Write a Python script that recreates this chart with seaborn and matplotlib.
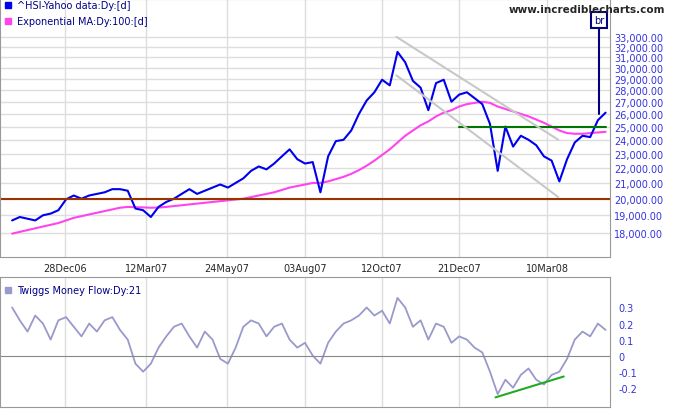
import numpy as np
import pandas as pd
import matplotlib
matplotlib.use('agg')
import matplotlib.pyplot as plt
import matplotlib.dates as mdates
from matplotlib.ticker import FixedLocator, NullLocator
import seaborn as sns

# weekly closes, Nov 2006 - May 2008
price = [18700, 18900, 18800, 18700, 19000, 19100, 19300, 19960, 20200, 20000,
         20200, 20300, 20400, 20600, 20600, 20500, 19400, 19300, 18900, 19500,
         19800, 20000, 20300, 20600, 20300, 20500, 20700, 20900, 20700, 21000,
         21300, 21800, 22100, 21900, 22300, 22800, 23300, 22600, 22300, 22400,
         20400, 22800, 23900, 24000, 24700, 26000, 27100, 27800, 28900, 28400,
         31500, 30500, 28800, 28200, 26300, 28600, 28900, 27000, 27600, 27800,
         27300, 26800, 25200, 21800, 25000, 23500, 24300, 24000, 23600, 22800,
         22500, 21100, 22600, 23800, 24300, 24200, 25500, 26100]
ema100 = [17950, 18050, 18150, 18250, 18350, 18450, 18550, 18700, 18850, 18950,
          19050, 19150, 19250, 19350, 19450, 19500, 19480, 19470, 19450, 19460,
          19500, 19550, 19600, 19650, 19700, 19750, 19800, 19850, 19900, 19950,
          20000, 20100, 20200, 20300, 20400, 20550, 20700, 20800, 20900, 21000,
          21000, 21100, 21250, 21400, 21600, 21850, 22150, 22500, 22900, 23300,
          23800, 24300, 24700, 25100, 25400, 25800, 26100, 26300, 26600, 26800,
          26900, 27000, 26900, 26600, 26400, 26200, 26000, 25800, 25550, 25300,
          25000, 24700, 24500, 24450, 24450, 24500, 24550, 24600]
twiggs = [0.30, 0.22, 0.15, 0.25, 0.20, 0.10, 0.22, 0.24, 0.18, 0.12,
          0.20, 0.15, 0.22, 0.24, 0.16, 0.10, -0.05, -0.10, -0.05, 0.05,
          0.12, 0.18, 0.20, 0.12, 0.05, 0.15, 0.10, -0.02, -0.05, 0.05,
          0.18, 0.22, 0.20, 0.12, 0.18, 0.20, 0.10, 0.05, 0.08, 0.00,
          -0.05, 0.08, 0.15, 0.20, 0.22, 0.25, 0.30, 0.25, 0.28, 0.20,
          0.36, 0.30, 0.18, 0.22, 0.10, 0.20, 0.18, 0.08, 0.12, 0.10,
          0.05, 0.02, -0.10, -0.24, -0.15, -0.20, -0.12, -0.08, -0.15, -0.18,
          -0.12, -0.10, -0.02, 0.10, 0.15, 0.12, 0.20, 0.16]
dates = pd.date_range('2006-11-10', periods=len(price), freq='7D')
df = pd.DataFrame({'date': dates, 'price': price, 'ema': ema100, 'twiggs': twiggs})

tick_dates = pd.to_datetime(['2006-12-28', '2007-03-12', '2007-05-24', '2007-08-03',
                             '2007-10-12', '2007-12-21', '2008-03-10'])
price_ticks = [18000, 19000, 20000, 21000, 22000, 23000, 24000, 25000, 26000,
               27000, 28000, 29000, 30000, 31000, 32000, 33000]
twiggs_ticks = [-0.2, -0.1, 0.0, 0.1, 0.2, 0.3]

sns.set_style('white')
plt.rcParams['font.family'] = ['DejaVu Sans']
fig = plt.figure(figsize=(6.75, 4.1), dpi=100)
ax1 = fig.add_axes([0, 1 - 258 / 410, 610 / 675, 258 / 410])
ax2 = fig.add_axes([0, 2 / 410, 610 / 675, 130 / 410], sharex=ax1)
xlim = (pd.Timestamp('2006-10-30'), pd.Timestamp('2008-05-06'))
lab_col = '#3333dd'

sns.lineplot(data=df, x='date', y='ema', ax=ax1, color='#ff44ee', lw=1.5)
sns.lineplot(data=df, x='date', y='price', ax=ax1, color='#0000ee', lw=1.5)
ax1.set_yscale('log')
ax1.set_ylim(16700, 37100)
ax1.set_xlim(*xlim)
ax1.yaxis.set_major_locator(FixedLocator(price_ticks))
ax1.yaxis.set_minor_locator(NullLocator())
ax1.yaxis.tick_right()
ax1.set_yticklabels([f'{v:,.2f}' for v in price_ticks], fontsize=7, color=lab_col)
ax1.set_xticks(tick_dates)
ax1.xaxis.set_major_formatter(mdates.DateFormatter('%d%b%y'))
ax1.tick_params(axis='x', labelsize=7, length=0, pad=4)
ax1.tick_params(axis='y', length=0, pad=3)
ax1.grid(True, color='#dddddd', lw=1)
ax1.set_xlabel('')
ax1.set_ylabel('')

# trend lines
ax1.axhline(20000, color='#993300', lw=1.5)
ax1.plot(pd.to_datetime(['2007-12-21', '2008-05-02']), [25000, 25000], color='#007700', lw=1.5)
ax1.plot(pd.to_datetime(['2007-10-25', '2008-03-20']), [33000, 24000], color='#c8c8c8', lw=1.5)
ax1.plot(pd.to_datetime(['2007-10-25', '2008-03-20']), [29300, 20100], color='#c8c8c8', lw=1.5)
br_date = pd.Timestamp('2008-04-26')
ax1.plot([br_date, br_date], [26000, 33800], color='#000080', lw=1.5)
ax1.text(br_date, 34800, 'br', ha='center', va='center', fontsize=7, color='#000080',
         bbox=dict(boxstyle='square,pad=0.3', fc='white', ec='#000080', lw=1.5))
fig.text(0.985, 0.975, 'www.incrediblecharts.com', ha='right', va='center',
         fontsize=7.5, fontweight='bold')
ax1.text(0.028, 0.975, '^HSI-Yahoo data:Dy:[d]', transform=ax1.transAxes, fontsize=7,
         color='#000088', va='center')
ax1.text(0.028, 0.915, 'Exponential MA:Dy:100:[d]', transform=ax1.transAxes, fontsize=7,
         color='#000088', va='center')
ax1.plot([0.013], [0.975], 's', transform=ax1.transAxes, color='#0000ee', ms=5)
ax1.plot([0.013], [0.915], 's', transform=ax1.transAxes, color='#ff44ee', ms=5)

sns.lineplot(data=df, x='date', y='twiggs', ax=ax2, color='#9999cc', lw=1.3)
ax2.axhline(0, color='#888888', lw=0.8)
ax2.plot(pd.to_datetime(['2008-01-23', '2008-03-25']), [-0.26, -0.13], color='#22aa22', lw=1.5)
ax2.set_ylim(-0.32, 0.49)
ax2.yaxis.tick_right()
ax2.set_yticks(twiggs_ticks)
ax2.set_yticklabels(['-0.2', '-0.1', '0', '0.1', '0.2', '0.3'], fontsize=7, color=lab_col)
ax2.tick_params(axis='y', length=0, pad=6)
ax2.tick_params(axis='x', labelbottom=False, length=0)
ax2.grid(True, axis='x', color='#dddddd', lw=1)
ax2.set_xlabel('')
ax2.set_ylabel('')
ax2.text(0.028, 0.9, 'Twiggs Money Flow:Dy:21', transform=ax2.transAxes, fontsize=7,
         color='#000088', va='center')
ax2.plot([0.013], [0.9], 's', transform=ax2.transAxes, color='#9999cc', ms=5)

for ax in (ax1, ax2):
    for s in ax.spines.values():
        s.set_color('#999999')

fig.savefig('out.png', dpi=100)
